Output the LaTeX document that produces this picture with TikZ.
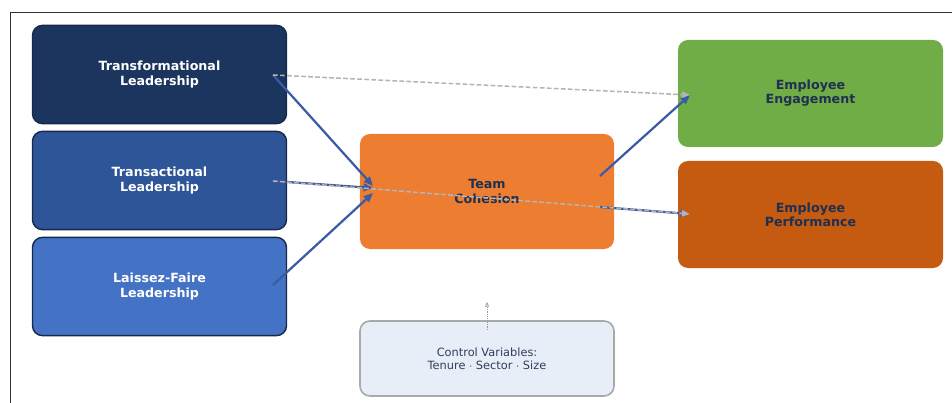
\documentclass[tikz,border=0pt]{standalone}
\usepackage{fontspec}
\setmainfont{DejaVu Sans}
\usetikzlibrary{arrows.meta}

\definecolor{navyA}{HTML}{1C355E}
\definecolor{navyB}{HTML}{2E5597}
\definecolor{navyC}{HTML}{4472C4}
\definecolor{edgeA}{HTML}{16294A}
\definecolor{cohfill}{HTML}{ED7D31}
\definecolor{engfill}{HTML}{70AD47}
\definecolor{perffill}{HTML}{C55A11}
\definecolor{ctrlfill}{HTML}{E8EEF8}
\definecolor{ctrledge}{HTML}{A9A9A9}
\definecolor{darktext}{HTML}{1F3050}
\definecolor{ctrltext}{HTML}{2F3E5C}
\definecolor{pathblue}{HTML}{3B5BA5}
\definecolor{dashgray}{HTML}{B4B4B4}

\tikzset{
  leadbox/.style={rectangle, rounded corners=0.3cm, draw=edgeA, line width=1.2pt,
    minimum width=7.62cm, minimum height=2.95cm, align=center, text=white,
    font=\fontsize{10.8}{12}\selectfont\bfseries},
  outbox/.style={rectangle, rounded corners=0.3cm, draw=none,
    minimum width=7.95cm, minimum height=3.21cm, align=center, text=darktext,
    font=\fontsize{10.8}{12}\selectfont\bfseries},
  path/.style={-{Triangle[length=8pt,width=6.5pt]}, pathblue, line width=1.9pt},
  direct/.style={-{Triangle[length=7pt,width=5.5pt]}, dashgray, line width=1.3pt,
    dash pattern=on 4pt off 2pt},
  ctrl/.style={-{Triangle[open,length=4pt,width=3.5pt]}, gray!80, line width=0.6pt,
    densely dotted}
}

\begin{document}
\begin{tikzpicture}[x=0.03cm, y=-0.03cm]
  \useasboundingbox (0,0) rectangle (952,403);
  % frame
  \draw[black!80, line width=0.6pt] (952,12) -- (10,12) -- (10,403);

  % Left side: leadership styles
  \node[leadbox, fill=navyA] (tf) at (159.5,74.5) {Transformational\\Leadership};
  \node[leadbox, fill=navyB] (ta) at (159.5,180.5) {Transactional\\Leadership};
  \node[leadbox, fill=navyC] (lf) at (159.5,286.5) {Laissez-Faire\\Leadership};

  % Middle: mediator and controls
  \node[outbox, fill=cohfill, minimum width=7.62cm, minimum height=3.45cm] (tc) at (487,191.5) {Team\\Cohesion};
  \node[rectangle, rounded corners=0.3cm, draw=ctrledge, line width=1.4pt, fill=ctrlfill,
    minimum width=7.62cm, minimum height=2.25cm, align=center, text=ctrltext,
    font=\fontsize{9.7}{11}\selectfont] (cv) at (487,358.5) {Control Variables:\\Tenure $\cdot$ Sector $\cdot$ Size};

  % Right side: outcomes
  \node[outbox, fill=engfill] (ee) at (810.5,93.5) {Employee\\Engagement};
  \node[outbox, fill=perffill] (ep) at (810.5,214.5) {Employee\\Performance};

  % arrow ends
  \coordinate (tf-out) at (273,75);
  \coordinate (ta-out) at (273,181);
  \coordinate (lf-out) at (273,285);
  \coordinate (tc-in1) at (373,186);
  \coordinate (tc-in2) at (373,188);
  \coordinate (tc-in3) at (373,193);
  \coordinate (tc-out1) at (600,176);
  \coordinate (tc-out2) at (600,207);
  \coordinate (ee-in) at (690,95);
  \coordinate (ep-in) at (690,214);
  \coordinate (cv-out) at (487,330);
  \coordinate (cv-tip) at (487,302);

  % mediated paths
  \draw[path] (tf-out) -- (tc-in1);
  \draw[path] (ta-out) -- (tc-in2);
  \draw[path] (lf-out) -- (tc-in3);
  \draw[path] (tc-out1) -- (ee-in);
  \draw[path] (tc-out2) -- (ep-in);

  % direct effects
  \draw[direct] (tf-out) -- (ee-in);
  \draw[direct] (ta-out) -- (ep-in);

  % controls
  \draw[ctrl] (cv-out) -- (cv-tip);
\end{tikzpicture}
\end{document}
